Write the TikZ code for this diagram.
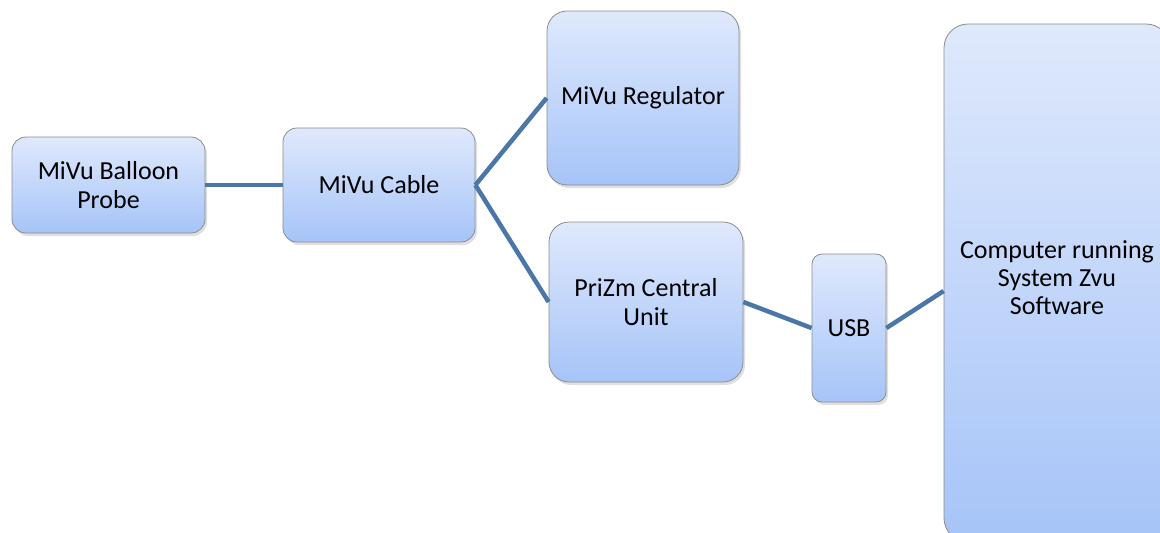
\documentclass[tikz,border=0pt]{standalone}
\usepackage{fontspec}
\setmainfont{Carlito}
\usetikzlibrary{shadows,positioning}
\definecolor{linkblue}{HTML}{4A76A8}
\definecolor{boxtop}{HTML}{DFE9FC}
\definecolor{boxbottom}{HTML}{A6C4F8}
\tikzset{
  unitbox/.style = {draw=black!45, line width=0.8pt, top color=boxtop, bottom color=boxbottom,
    rounded corners=14pt, align=center, inner sep=0pt,
    font=\fontsize{26}{29}\selectfont,
    drop shadow={opacity=0.25, shadow xshift=2pt, shadow yshift=-3pt}},
  link/.style = {draw=linkblue, line width=4.5pt},
}

\begin{document}
\begin{tikzpicture}[x=1pt, y=-1pt]
\useasboundingbox (0,0) rectangle (1160,533);

% boxes
\node[unitbox, minimum width=193pt, minimum height=96pt] (probe) at (108.5,185) {MiVu Balloon\\Probe};
\node[unitbox, minimum width=192pt, minimum height=114pt] (cable) at (379,185) {MiVu Cable};
\node[unitbox, minimum width=192pt, minimum height=174pt, rounded corners=20pt] (regulator) at (643,98) {MiVu Regulator};
\node[unitbox, minimum width=194pt, minimum height=160pt, rounded corners=20pt] (central) at (646,302) {PriZm Central\\Unit};
\node[unitbox, minimum width=74pt, minimum height=148pt, rounded corners=10pt] (usb) at (849,328) {USB};
\node[unitbox, minimum width=226pt, minimum height=518pt, rounded corners=24pt] (computer) at (1057,283) {};
\node[font=\fontsize{26}{28}\selectfont, align=center] (comptext) at (1057,278) {Computer running\\System Zvu\\Software};

% links
\draw[link] (probe.east) -- (cable.west);
\draw[link] (cable.east) -- (regulator.west);
\draw[link] (cable.east) -- (central.west);
\draw[link] (central.east) -- (usb.west);
\draw[link] (usb.east) -- ([yshift=-8pt]computer.west);

\end{tikzpicture}
\end{document}
